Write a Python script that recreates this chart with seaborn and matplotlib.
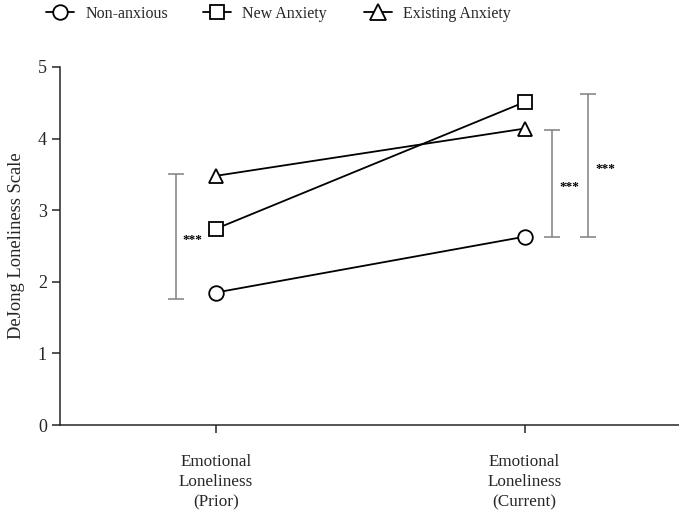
import numpy as np
import pandas as pd
import matplotlib
matplotlib.use("Agg")
import matplotlib.pyplot as plt
import seaborn as sns

# data
timepoints = ["Emotional\nLoneliness\n(Prior)", "Emotional\nLoneliness\n(Current)"]
groups = ["Non-anxious", "New Anxiety", "Existing Anxiety"]
non_anxious = [1.85, 2.63]
new_anxiety = [2.74, 4.51]
existing_anxiety = [3.48, 4.14]

# significance brackets: (x, y_low, y_high, label)
brackets = [(-0.13, 1.76, 3.51, "***"),
            (1.09, 2.62, 4.12, "***"),
            (1.205, 2.62, 4.62, "***")]

df = pd.DataFrame({
    "x": [0, 1] * 3,
    "score": non_anxious + new_anxiety + existing_anxiety,
    "group": np.repeat(groups, 2),
})

sns.set_style("ticks")
plt.rcParams["font.family"] = ["Liberation Serif", "DejaVu Serif"]

fig = plt.figure(figsize=(6.79, 5.12), dpi=100)
ax = fig.add_axes([60 / 679, 1 - 425 / 512, 619 / 679, 358 / 512])

markers = {"Non-anxious": "o", "New Anxiety": "s", "Existing Anxiety": "^"}
sizes = {"o": 10.5, "s": 10.5, "^": 11.5}
sns.lineplot(data=df, x="x", y="score", hue="group", style="group",
             markers=markers, dashes=False, palette=["black"] * 3,
             markersize=10.5, markerfacecolor="white", markeredgecolor="black",
             markeredgewidth=1.3, linewidth=1.3, ax=ax, legend=False, zorder=3)

for bx, lo, hi, lab in brackets:
    ax.errorbar([bx], [(lo + hi) / 2], yerr=[[(hi - lo) / 2], [(hi - lo) / 2]],
                fmt="none", ecolor="#808080", elinewidth=1.1, capsize=6,
                capthick=1.1)
    ax.text(bx + 0.055, (lo + hi) / 2 - 0.05, lab, ha="center", va="center",
            fontsize=9.5, fontweight="bold", color="black")

ax.set_xlim(-0.505, 1.5)
ax.set_ylim(0, 5)
ax.set_yticks([0, 1, 2, 3, 4, 5])
ax.set_xticks([0, 1])
ax.set_xticklabels(timepoints, fontsize=12.3, linespacing=1.35)
ax.tick_params(axis="y", labelsize=13, length=6, width=1.1)
ax.tick_params(axis="x", length=6, width=1.1, pad=15)
ax.set_xlabel("")
ax.set_ylabel("DeJong Loneliness Scale", fontsize=13.3, labelpad=9)
sns.despine(ax=ax)
for s in ["left", "bottom"]:
    ax.spines[s].set_linewidth(1.1)

# one legend entry per group, placed along the top
legend_x = [46, 203, 364]
for g, lx in zip(groups, legend_x):
    h = plt.Line2D([], [], color="black", marker=markers[g],
                   markersize=sizes[markers[g]], markerfacecolor="white",
                   markeredgewidth=1.3, linewidth=1.3)
    leg = fig.legend([h], [g], loc="center left",
                     bbox_to_anchor=(lx / 679, 1 - 14 / 512), borderpad=0,
                     borderaxespad=0, frameon=False, fontsize=11.5,
                     handlelength=1.75, handletextpad=0.7)

fig.savefig("out.png", dpi=100)
